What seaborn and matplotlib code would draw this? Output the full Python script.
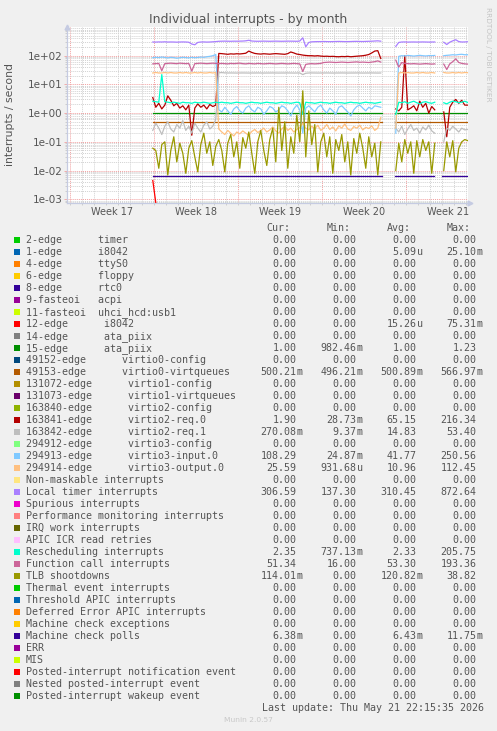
import numpy as np
import pandas as pd
import matplotlib
matplotlib.use("Agg")
import matplotlib.pyplot as plt
from matplotlib.patches import Rectangle
import seaborn as sns

NA = np.nan

# ---------------- data ----------------
# samples every 6 hours, day 0 = start of Week 17
GRID_START_DAY = 6.9
GRID_STEP_DAY = 0.25

week_starts = [0, 7, 14, 21, 28]
week_labels = ["Week 17", "Week 18", "Week 19", "Week 20", "Week 21"]
ytick_values = [1e-3, 1e-2, 1e-1, 1e0, 1e1, 1e2]
ytick_labels = ["1e-03", "1e-02", "1e-01", "1e+00", "1e+01", "1e+02"]

local_timer = [300, 298, 302, 300, 305, 299, 301, 300, 296, 300, 302, 300, 295,
               255, 240, 290, 300, 302, 298, 300, 305, 310,
               318, 320, 322, 320, 318, 321, 320, 322, 324, 330, 345, 325, 320, 318,
               320, 322, 320, 318, 320, 322, 320, 318, 320, 322, 321, 320, 318, 325,
               420, 205, 290,
               305, 308, 310, 310, 312, 310, 308, 310, 312, 314, 312, 310, 310, 312,
               315, 316, 314, 312, 315, 318, 320, 325, 330, 320,
               NA, NA, NA, NA,
               210, 290, 300, 302, 298, 300, 301, 299, 300, 302, 300, 298, 300, 301,
               NA, NA,
               295, 245, 295, 330, 360, 310, 300, 302, 306]

virtio3_input = [85, 88, 86, 90, 87, 84, 88, 86, 82, 85, 88, 86, 84, 88, 85, 87, 90, 88, 92, 95, 100, 110,
                 1.3, 1.1, 1.6, 1.2, 0.9, 1.4, 1.7, 1.2, 1.0, 1.5, 1.8, 1.3, 1.1, 1.6, 1.4, 0.9,
                 1.2, 1.7, 1.5, 1.1, 1.3, 1.8, 1.6, 1.2, 0.8, 1.4, 1.9, 1.3,
                 0.2, 1.5,
                 1.8, 1.4, 1.1, 1.6, 1.9, 1.3, 1.0, 1.5, 1.2, 0.9, 1.6, 1.8, 1.4, 1.1, 0.8, 1.3,
                 1.7, 1.9, 1.5, 1.2, 1.6, 1.4, 1.8, 1.7, 1.6,
                 NA, NA, NA, NA,
                 0.2, 95, 100, 98, 102, 100, 97, 100, 103, 100, 98, 101, 100, 102,
                 NA, NA,
                 100, 103, 105, 108, 106, 110, 112, 108, 108]

virtio2_req0 = [3.5, 1.6, 2.2, 1.4, 1.9, 4.0, 2.8, 1.8, 2.2, 1.5, 1.8, 1.3, 1.9, 0.17, 1.5, 2.1, 1.6, 1.9,
                1.4, 2.0, 1.7, 1.9,
                120, 118, 115, 112, 116, 114, 117, 115, 118, 122, 145, 130, 120, 116, 114, 117, 115,
                113, 116, 118, 116, 114, 112, 118, 135, 125, 114, 110,
                105, 102, 100, 100, 98, 100, 97, 95, 96, 94, 95, 93, 92, 94, 93, 95, 92, 94, 96, 98,
                100, 104, 110, 125, 145, 150, 80,
                NA, NA, NA, NA,
                1.4, 1.2, 1.6, 100, 1.3, 1.5, 1.8, 1.2, 2.6, 1.6, 2.2, 1.0, 1.7, 1.3,
                NA, NA,
                1.1, 0.15, 1.6, 2.4, 3.0, 2.2, 2.8, 1.9, 1.9]

function_call = [52, 53, 54, 30, 53, 54, 55, 54, 53, 55, 54, 53, 54, 29, 53, 54, 55, 54, 53, 54, 55, 54,
                 53, 54, 53, 52, 54, 53, 54, 55, 53, 52, 54, 53, 52, 54, 53, 52, 53, 54, 53, 52,
                 53, 54, 53, 52, 53, 54, 53, 52,
                 28, 50, 52, 53, 52, 53, 54, 58, 59, 60, 59, 58, 59, 60, 59, 58, 59, 60, 61, 59,
                 60, 59, 58, 60, 62, 66, 60,
                 NA, NA, NA, NA,
                 70, 40, 58, 54, 53, 52, 53, 52, 51, 52, 53, 52, 51, 52,
                 NA, NA,
                 51, 33, 52, 62, 78, 58, 54, 52, 51]

virtio3_output = [25, 26, 25, 25, 26, 25, 26, 25, 25, 26, 25, 26, 25, 25, 26, 25, 26, 25, 25, 26, 25, 26,
                  0.28, 0.22, 0.18, 0.25, 0.2, 0.16, 0.22, 0.19, 0.24, 0.2, 0.17, 0.23, 0.27, 0.21,
                  0.25, 0.3, 0.22, 0.26, 0.33, 0.24, 0.2, 0.28, 0.35, 0.25, 0.3, 0.22, 0.27, 0.32,
                  0.45, 0.3, 0.26, 0.35, 0.28, 0.38, 0.25, 0.3, 0.4, 0.27, 0.33, 0.24, 0.36, 0.3,
                  0.42, 0.28, 0.25, 0.34, 0.3, 0.38, 0.26, 0.32, 0.29, 0.36, 0.25, 0.3, 0.7,
                  NA, NA, NA, NA,
                  0.3, 25, 26, 25, 26, 25, 25, 26, 25, 26, 25, 25, 26, 25,
                  NA, NA,
                  26, 25, 25, 26, 25, 26, 25, 26, 25.6]

virtio2_req1 = [0.25, 0.45, 0.3, 0.18, 0.35, 0.5, 0.28, 0.22, 0.4, 0.3, 0.55, 0.25, 0.35, 0.2, 0.45,
                0.3, 0.22, 0.38, 0.5, 0.28, 0.35, 0.6,
                25.5, 25.8, 25.2, 25.0, 25.1, 25.0, 24.9, 25.0, 25.1, 25.0, 24.9, 25.0, 25.0, 25.1,
                25.0, 24.9, 25.0, 25.0, 25.1, 25.0, 24.9, 25.0, 25.0, 25.1, 25.0, 24.9, 25.0, 25.0,
                22, 24.5, 25.0, 25.1, 25.0, 24.9, 25.0, 25.0, 25.1, 25.0, 24.9, 25.0, 25.0, 25.1,
                25.0, 24.9, 25.0, 25.0, 25.1, 25.0, 24.9, 25.0, 25.0, 25.1, 25.0, 24.9, 25.0,
                NA, NA, NA, NA,
                0.3, 0.22, 0.35, 0.18, 0.28, 0.4, 0.25, 0.3, 0.2, 0.33, 0.26, 0.38, 0.24, 0.2,
                NA, NA,
                0.1, 0.3, 0.25, 0.35, 0.28, 0.22, 0.3, 0.26, 0.27]

rescheduling = [2.6, 2.5, 2.4, 22, 2.5, 2.4, 2.3, 2.4, 2.3, 2.2, 2.4, 2.3, 2.3, 2.2, 2.4, 2.3, 2.3, 2.4,
                2.3, 2.2, 2.3, 2.4,
                2.3, 2.4, 2.3, 2.3, 2.2, 2.3, 2.4, 2.3, 2.3, 2.2, 2.3, 2.4, 2.3, 2.3, 2.2, 2.3, 2.4,
                2.3, 2.3, 2.2, 2.3, 2.4, 2.3, 2.3, 2.2, 2.3, 2.4, 2.3,
                0.9, 2.4, 2.3, 2.3, 2.2, 2.3, 2.4, 2.3, 2.3, 2.2, 2.3, 2.4, 2.3, 2.3, 2.2, 2.3, 2.4,
                2.3, 2.3, 2.2, 2.3, 2.4, 2.3, 2.3, 2.2, 2.3, 2.4,
                NA, NA, NA, NA,
                0.9, 2.4, 2.3, 2.5, 2.2, 2.4, 2.6, 2.3, 2.1, 2.4, 2.5, 2.3, 2.2, 2.4,
                NA, NA,
                2.3, 2.1, 2.4, 2.6, 2.5, 2.3, 2.4, 2.6, 2.35]

tlb_shootdowns = [0.06, 0.05, 0.012, 0.08, 0.1, 0.007, 0.05, 0.15, 0.02, 0.09, 0.04, 0.008, 0.06, 0.11,
                  0.03, 0.009, 0.08, 0.2, 0.04, 0.1, 0.015, 0.07,
                  0.12, 0.05, 0.009, 0.09, 0.18, 0.03, 0.1, 0.012, 0.14, 0.06, 0.22, 0.04, 0.008, 0.1,
                  0.25, 0.05, 0.015, 0.12, 0.3, 0.02, 1.6, 0.05, 0.5, 0.012, 0.15, 0.04, 0.85, 0.1,
                  6.0, 0.03, 1.2, 0.08, 0.4, 0.009, 0.1, 0.2, 0.03, 0.15, 0.008, 0.12, 0.05, 0.18,
                  0.02, 0.1, 0.007, 0.13, 0.04, 0.2, 0.06, 0.012, 0.15, 0.03, 0.09, 0.007, 0.1,
                  NA, NA, NA, NA,
                  0.01, 0.09, 0.02, 0.12, 0.04, 0.1, 0.008, 0.11, 0.03, 0.12, 0.05, 0.1, 0.008, 0.09,
                  NA, NA,
                  0.01, 0.1, 0.03, 0.11, 0.009, 0.06, 0.1, 0.12, 0.11]

irq12_i8042 = [0.0045, 0.0]

# flat series: level and the day ranges where data exist
SEGMENTS_FULL = [(6.9, 26.0), (27.1, 33.15)]
SEGMENTS_MCP = [(6.9, 26.0), (27.1, 30.3), (31.0, 33.15)]
ata_piix_15_level = 1.0
virtio0_virtqueues_level = 0.5
machine_check_polls_level = 0.0065
posted_wakeup_level = 0.0

# legend table
legend_names = [
    "2-edge      timer", "1-edge      i8042", "4-edge      ttyS0", "6-edge      floppy",
    "8-edge      rtc0", "9-fasteoi   acpi", "11-fasteoi  uhci_hcd:usb1", "12-edge      i8042",
    "14-edge      ata_piix", "15-edge      ata_piix", "49152-edge      virtio0-config",
    "49153-edge      virtio0-virtqueues", "131072-edge      virtio1-config",
    "131073-edge      virtio1-virtqueues", "163840-edge      virtio2-config",
    "163841-edge      virtio2-req.0", "163842-edge      virtio2-req.1",
    "294912-edge      virtio3-config", "294913-edge      virtio3-input.0",
    "294914-edge      virtio3-output.0", "Non-maskable interrupts", "Local timer interrupts",
    "Spurious interrupts", "Performance monitoring interrupts", "IRQ work interrupts",
    "APIC ICR read retries", "Rescheduling interrupts", "Function call interrupts",
    "TLB shootdowns", "Thermal event interrupts", "Threshold APIC interrupts",
    "Deferred Error APIC interrupts", "Machine check exceptions", "Machine check polls",
    "ERR", "MIS", "Posted-interrupt notification event", "Nested posted-interrupt event",
    "Posted-interrupt wakeup event"]
legend_colors = [
    "#00CC00", "#0066B3", "#FF8000", "#FFCC00", "#330099", "#990099", "#CCFF00", "#FF0000",
    "#808080", "#008F00", "#00487D", "#B35A00", "#B38F00", "#6B006B", "#8FB300", "#B30000",
    "#BEBEBE", "#80FF80", "#80C9FF", "#FFC080", "#FFE680", "#AA80FF", "#EE00CC", "#FF8080",
    "#666600", "#FFBFFF", "#00FFCC", "#CC6699", "#999900", "#00CC00", "#0066B3", "#FF8000",
    "#FFCC00", "#330099", "#990099", "#CCFF00", "#FF0000", "#808080", "#008F00"]
Z = "0.00"
legend_cur = [Z, Z, Z, Z, Z, Z, Z, Z, Z, "1.00", Z, "500.21m", Z, Z, Z, "1.90", "270.08m", Z,
              "108.29", "25.59", Z, "306.59", Z, Z, Z, Z, "2.35", "51.34", "114.01m", Z, Z, Z, Z,
              "6.38m", Z, Z, Z, Z, Z]
legend_min = [Z, Z, Z, Z, Z, Z, Z, Z, Z, "982.46m", Z, "496.21m", Z, Z, Z, "28.73m", "9.37m", Z,
              "24.87m", "931.68u", Z, "137.30", Z, Z, Z, Z, "737.13m", "16.00", Z, Z, Z, Z, Z,
              Z, Z, Z, Z, Z, Z]
legend_avg = [Z, "5.09u", Z, Z, Z, Z, Z, "15.26u", Z, "1.00", Z, "500.89m", Z, Z, Z, "65.15", "14.83", Z,
              "41.77", "10.96", Z, "310.45", Z, Z, Z, Z, "2.33", "53.30", "120.82m", Z, Z, Z, Z,
              "6.43m", Z, Z, Z, Z, Z]
legend_max = [Z, "25.10m", Z, Z, Z, Z, Z, "75.31m", Z, "1.23", Z, "566.97m", Z, Z, Z, "216.34", "53.40", Z,
              "250.56", "112.45", Z, "872.64", Z, Z, Z, Z, "205.75", "193.36", "38.82", Z, Z, Z, Z,
              "11.75m", Z, Z, Z, Z, Z]
column_headers = ["Cur:", "Min:", "Avg:", "Max:"]

# ---------------- figure ----------------
W, H = 497, 731
plt.rcParams["font.family"] = ["DejaVu Sans"]
TXT = "#555555"
fig = plt.figure(figsize=(W / 100, H / 100), dpi=100, facecolor="#F0F0F0")


def fx(px):
    return px / W


def fy(py):
    return 1 - py / H


AX_L, AX_R, AX_T, AX_B = 67, 468, 27, 203
ax = fig.add_axes([fx(AX_L), fy(AX_B), (AX_R - AX_L) / W, (AX_B - AX_T) / H])
ax.set_facecolor("white")
ax.set_yscale("log")
Y_BOTTOM, Y_TOP = 7.4e-4, 1.0e3
Y_FLOOR = 7.6e-4
X_LEFT, X_RIGHT = -0.25, 33.17

# grid
for d in range(0, 34):
    major = d % 7 == 0
    ax.axvline(d, color="#f2a0a0" if major else "#d2d2d2", lw=0.7, ls=(0, (1, 1)), zorder=1)
for k in range(-4, 4):
    for m in range(1, 10):
        v = m * 10.0 ** k
        if Y_BOTTOM < v < Y_TOP:
            ax.axhline(v, color="#f2a0a0" if m == 1 else "#d2d2d2", lw=0.7, ls=(0, (1, 1)), zorder=1)


def grid_frame(values):
    v = np.asarray(values, dtype=float)
    day = GRID_START_DAY + GRID_STEP_DAY * np.arange(len(v))
    seg = np.cumsum(np.isnan(v))
    df = pd.DataFrame({"day": day, "rate": v, "seg": seg}).dropna()
    df["rate"] = df["rate"].clip(lower=Y_FLOOR)
    return df


def flat_frame(level, segments):
    rows = []
    for k, (a, b) in enumerate(segments):
        rows += [(a, level, k), (b, level, k)]
    df = pd.DataFrame(rows, columns=["day", "rate", "seg"])
    df["rate"] = df["rate"].clip(lower=Y_FLOOR)
    return df


def draw(df, color, lw=0.9, z=3, alpha=1.0):
    sns.lineplot(data=df, x="day", y="rate", units="seg", estimator=None, sort=False,
                 color=color, linewidth=lw, ax=ax, legend=False, zorder=z, alpha=alpha)


draw(grid_frame(irq12_i8042), "#FF0000")
draw(flat_frame(ata_piix_15_level, SEGMENTS_FULL), "#008F00")
draw(flat_frame(virtio0_virtqueues_level, SEGMENTS_FULL), "#B35A00")
draw(grid_frame(virtio2_req0), "#B30000")
draw(grid_frame(virtio2_req1), "#BEBEBE")
draw(grid_frame(virtio3_input), "#80C9FF")
draw(grid_frame(virtio3_output), "#FFC080")
draw(grid_frame(local_timer), "#AA80FF")
draw(grid_frame(rescheduling), "#00FFCC")
draw(grid_frame(function_call), "#CC6699")
draw(grid_frame(tlb_shootdowns), "#999900")
draw(flat_frame(machine_check_polls_level, SEGMENTS_MCP), "#330099")
draw(flat_frame(posted_wakeup_level, SEGMENTS_FULL), "#008F00", lw=0.8, alpha=0.5)

ax.set_xlim(X_LEFT, X_RIGHT)
ax.set_ylim(Y_BOTTOM, Y_TOP)
ax.set_xlabel("")
ax.set_ylabel("")

week_centers = [s + 3.5 for s in week_starts]
ax.set_xticks(week_centers, week_labels)
ax.set_xticks(list(range(0, 34)), minor=True)
ax.set_yticks(ytick_values, ytick_labels)
ax.yaxis.set_minor_locator(matplotlib.ticker.LogLocator(base=10, subs=np.arange(2, 10)))
ax.yaxis.set_minor_formatter(matplotlib.ticker.NullFormatter())
ax.tick_params(axis="x", which="major", length=0, pad=3.2, labelsize=7.0, labelcolor=TXT)
ax.tick_params(axis="x", which="minor", length=1.5, color="#c8c8c8", width=0.6)
ax.tick_params(axis="y", which="major", length=2, color="#f2a0a0", width=0.6, pad=1.2,
               labelsize=7.5, labelcolor=TXT)
ax.tick_params(axis="y", which="minor", length=1.2, color="#c8c8c8", width=0.6)

AXC = "#c5cbe2"
for s in ["top", "right"]:
    ax.spines[s].set_visible(False)
for s in ["left", "bottom"]:
    ax.spines[s].set_color(AXC)
    ax.spines[s].set_linewidth(0.9)
ax.plot([0], [1.0], marker="^", ms=3.5, color=AXC, transform=ax.transAxes, clip_on=False, zorder=5)
ax.plot([1.005], [0], marker=">", ms=3.5, color=AXC, transform=ax.transAxes, clip_on=False, zorder=5)

# titles
fig.text(0.5, fy(19), "Individual interrupts - by month", ha="center", va="center",
         fontsize=9.0, color=TXT)
fig.text(fx(10.5), fy(114.5), "interrupts / second", rotation=90, ha="center", va="center",
         fontsize=7.8, color=TXT)
fig.text(fx(488), fy(54), "RRDTOOL / TOBI OETIKER", rotation=270, ha="center", va="center",
         fontsize=5.3, color="#c4c4c4")

# legend
MONO = "DejaVu Sans Mono"
FS = 7.2
BASE0 = 243.3
ROW = 12.0
for j, h in enumerate(column_headers):
    fig.text(fx(266.5 + 60 * j), fy(BASE0 - ROW), h, ha="left", va="baseline",
             family=MONO, fontsize=FS, color=TXT)


def put_value(xr, yb, s):
    if s[-1].isalpha():
        num, suf = s[:-1], s[-1]
    else:
        num, suf = s, ""
    fig.text(fx(xr), fy(yb), num, ha="right", va="baseline", family=MONO, fontsize=FS, color=TXT)
    if suf:
        fig.text(fx(xr), fy(yb), suf, ha="left", va="baseline", family=MONO, fontsize=FS, color=TXT)


for i, name in enumerate(legend_names):
    yb = BASE0 + ROW * i
    fig.add_artist(Rectangle((fx(14), fy(yb - 0.6)), 6 / W, 5.8 / H, transform=fig.transFigure,
                             facecolor=legend_colors[i], edgecolor="none"))
    fig.text(fx(26), fy(yb), name, ha="left", va="baseline", family=MONO, fontsize=FS, color=TXT)
    for j, col in enumerate([legend_cur, legend_min, legend_avg, legend_max]):
        put_value(296.5 + 60 * j, yb, col[i])

fig.text(fx(483.5), fy(BASE0 + ROW * len(legend_names)), "Last update: Thu May 21 22:15:35 2026",
         ha="right", va="baseline", family=MONO, fontsize=FS, color=TXT)
fig.text(0.5, fy(720), "Munin 2.0.57", ha="center", va="center", fontsize=5.4, color="#c8c8c8")

fig.savefig("out.png", dpi=100, facecolor=fig.get_facecolor())
